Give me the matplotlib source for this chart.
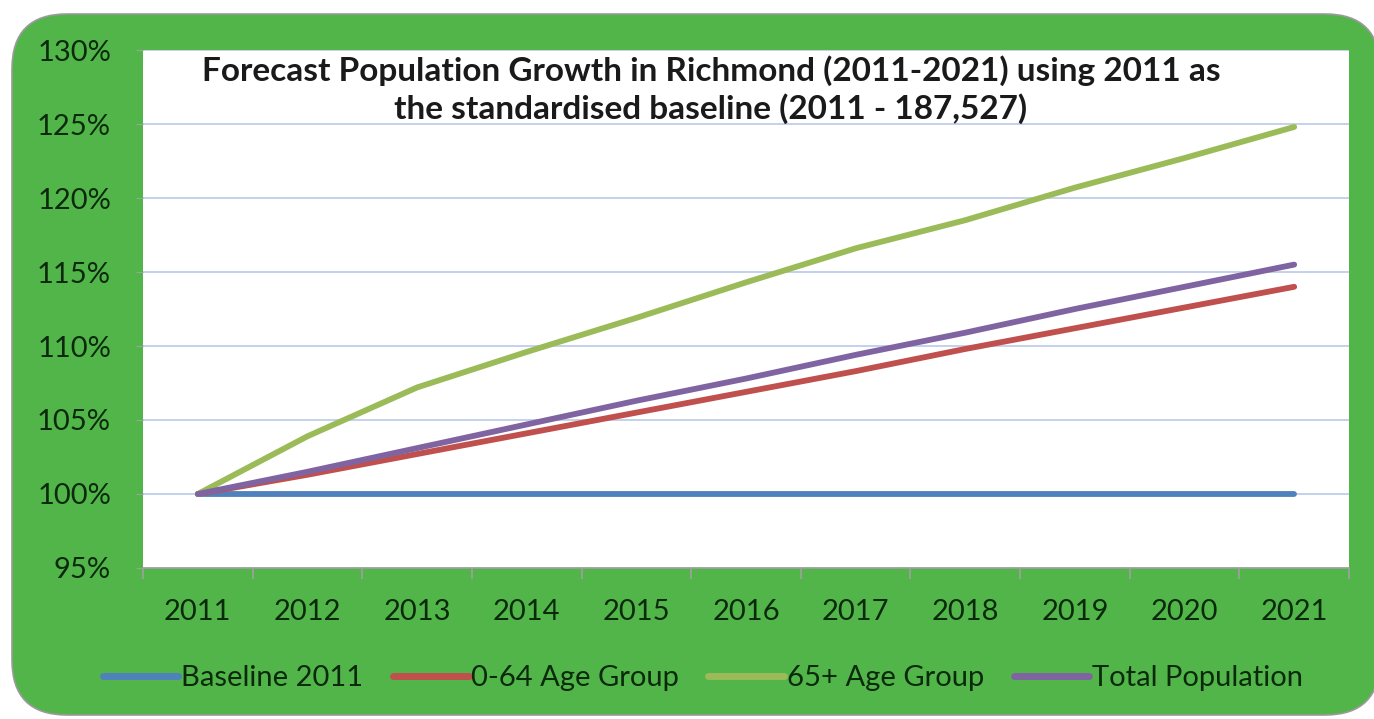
import matplotlib
matplotlib.use("Agg")
import matplotlib.pyplot as plt
from matplotlib.patches import FancyBboxPatch
from matplotlib.ticker import FixedLocator, FuncFormatter

years = ["2011", "2012", "2013", "2014", "2015", "2016", "2017", "2018", "2019", "2020", "2021"]
baseline = [100, 100, 100, 100, 100, 100, 100, 100, 100, 100, 100]
age_0_64 = [100, 101.3, 102.7, 104.1, 105.5, 106.9, 108.3, 109.8, 111.2, 112.6, 114.0]
age_65p = [100, 103.9, 107.2, 109.6, 111.9, 114.3, 116.6, 118.5, 120.7, 122.7, 124.8]
total = [100, 101.5, 103.1, 104.7, 106.3, 107.8, 109.4, 110.9, 112.5, 114.0, 115.5]
series_names = ["Baseline 2011", "0-64 Age Group", "65+ Age Group", "Total Population"]
title = "Forecast Population Growth in Richmond (2011-2021) using 2011 as\nthe standardised baseline (2011 - 187,527)"

plt.rcParams['font.family'] = ['Lato', 'DejaVu Sans']
txt = "#0b2a0b"

fig = plt.figure(figsize=(13.74, 7.19), dpi=100)
fig.patch.set_facecolor("white")
W, H = 1374, 719
box = FancyBboxPatch((12 / W, 4 / H), (1380 - 12) / W, (705 - 4) / H,
                     boxstyle="round,pad=0,rounding_size=0.04",
                     transform=fig.transFigure, facecolor="#52b54a",
                     edgecolor="#9a9a9a", linewidth=1.2, mutation_aspect=W / H, zorder=-10)
fig.patches.append(box)

ax = fig.add_axes([143 / W, (719 - 568) / H, (1349 - 143) / W, (568 - 50) / H])
ax.set_zorder(5)
ax.set_facecolor("white")
x = list(range(len(years)))
colors = ["#4f81bd", "#c0504d", "#9bbb59", "#8064a2"]
for data, c, name in zip([baseline, age_0_64, age_65p, total], colors, series_names):
    ax.plot(x, data, color=c, lw=4.2, solid_capstyle="round", label=name, zorder=3)

ax.set_xlim(-0.5, len(years) - 0.5)
ax.set_ylim(95, 130)
ax.set_yticks([95, 100, 105, 110, 115, 120, 125, 130])
ax.yaxis.set_major_formatter(FuncFormatter(lambda v, p: f"{int(v)}%"))
ax.grid(axis="y", color="#b9c9e8", lw=1.2)
ax.set_axisbelow(True)
ax.set_xticks(x)
ax.set_xticklabels(years)
ax.xaxis.set_minor_locator(FixedLocator([i - 0.5 for i in range(len(years) + 1)]))
ax.tick_params(axis="x", which="major", length=0, pad=22, labelsize=21, labelcolor=txt)
ax.tick_params(axis="x", which="minor", length=8, color="#a0a0a0", width=1.2)
ax.tick_params(axis="y", length=5, color="#a0a0a0", labelsize=21, labelcolor=txt, pad=18)
for s in ["top", "right", "left"]:
    ax.spines[s].set_visible(False)
ax.spines["bottom"].set_color("#a0a0a0")
ax.spines["bottom"].set_linewidth(1.2)

ax.text(0.471, 0.99, title, transform=ax.transAxes, ha="center", va="top",
        fontsize=24, fontweight="bold", color="#1a1a1a", linespacing=1.28)

leg = fig.legend(loc="center", bbox_to_anchor=(703 / W, 1 - 678 / H), ncol=4, frameon=False,
                 fontsize=21, handlelength=2.6, handletextpad=0.1, columnspacing=1.0)
for t in leg.get_texts():
    t.set_color(txt)
for h in leg.legend_handles:
    h.set_linewidth(5)

fig.savefig("out.png", dpi=100)
